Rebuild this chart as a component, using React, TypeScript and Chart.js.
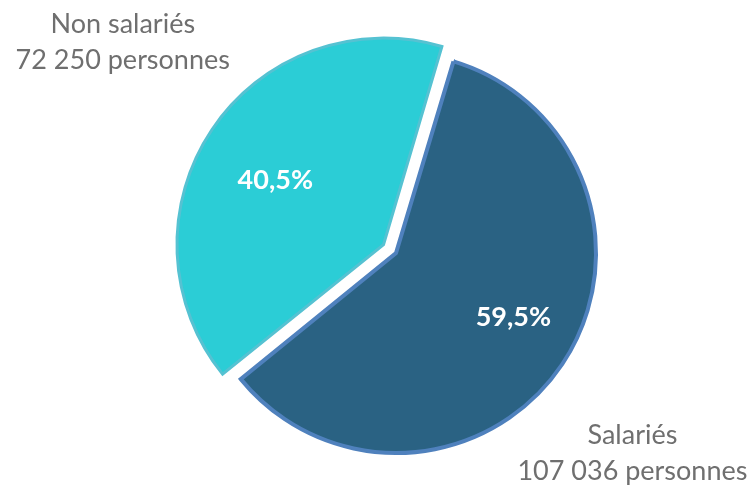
import React, { useEffect, useRef } from "react";
import { Chart, registerables } from "chart.js";

Chart.register(...registerables);

const categories = ["Salariés", "Non salariés"];
const shares = [59.5, 40.5];
const percentLabels = ["59,5%", "40,5%"];
const personLabels = ["107 036 personnes", "72 250 personnes"];

const FONT = "Lato, 'Open Sans', sans-serif";

const labelPlugin = {
  id: "sliceLabels",
  afterDatasetsDraw(chart: any) {
    const ctx = chart.ctx;
    const meta = chart.getDatasetMeta(0);
    const inner = [
      { dAngle: -5, factor: 0.67 },
      { dAngle: -3, factor: 0.63 },
    ];
    const outer = [
      { dAngle: 6.5, factor: 1.55 },
      { dAngle: 4, factor: 1.65 },
    ];
    meta.data.forEach((arc: any, i: number) => {
      const p = arc.getProps(["x", "y", "startAngle", "endAngle", "outerRadius"], true);
      const mid = (p.startAngle + p.endAngle) / 2;
      const off = (arc.options.offset || 0) / 4;
      const cx = p.x + Math.cos(mid) * off;
      const cy = p.y + Math.sin(mid) * off;
      const r = p.outerRadius;
      ctx.save();
      ctx.textAlign = "center";
      ctx.textBaseline = "middle";
      ctx.fillStyle = "#ffffff";
      ctx.font = `bold 27px ${FONT}`;
      const ia = mid + (inner[i].dAngle * Math.PI) / 180;
      ctx.fillText(percentLabels[i], cx + Math.cos(ia) * r * inner[i].factor, cy + Math.sin(ia) * r * inner[i].factor);
      const a = mid + (outer[i].dAngle * Math.PI) / 180;
      const ox = cx + Math.cos(a) * r * outer[i].factor;
      const oy = cy + Math.sin(a) * r * outer[i].factor;
      ctx.fillStyle = "#6f6f6f";
      ctx.font = `27px ${FONT}`;
      ctx.fillText(categories[i], ox, oy - 18);
      ctx.fillText(personLabels[i], ox, oy + 18);
      ctx.restore();
    });
  },
};

export default function App() {
  const ref = useRef<HTMLCanvasElement>(null);
  useEffect(() => {
    const chart = new Chart(ref.current!, {
      type: "pie",
      data: {
        labels: categories,
        datasets: [
          {
            data: shares,
            backgroundColor: ["#2a6283", "#2bcdd6"],
            borderColor: ["#4f81bd", "#55c2d2"],
            borderWidth: [4, 3],
            offset: [0, 60],
            borderJoinStyle: "miter",
          } as any,
        ],
      },
      options: {
        animation: false,
        responsive: false,
        rotation: 16.7,
        radius: 200,
        layout: { padding: { left: 45, top: 20 } },
        plugins: { legend: { display: false }, tooltip: { enabled: false } },
      } as any,
      plugins: [labelPlugin],
    });
    return () => chart.destroy();
  }, []);
  return (
    <div style={{ position: "fixed", left: 0, top: 0, width: 747, height: 486, background: "#fff" }}>
      <canvas ref={ref} width={747} height={486} />
    </div>
  );
}
